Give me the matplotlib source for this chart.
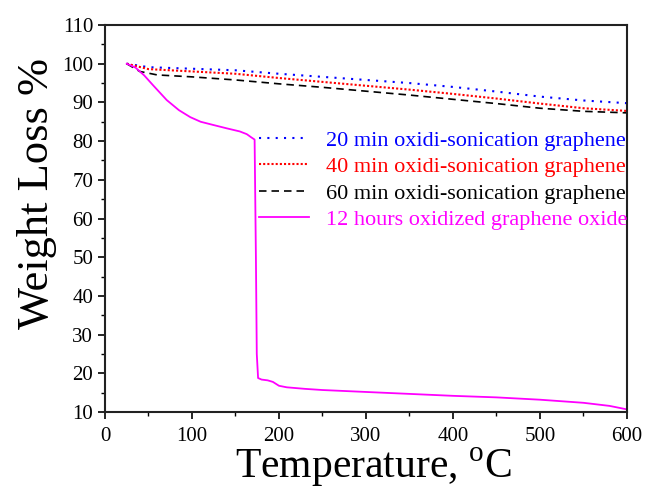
import matplotlib
matplotlib.use("Agg")
import matplotlib.pyplot as plt
from matplotlib.ticker import MultipleLocator

plt.rcParams['font.family'] = ['Liberation Serif', 'DejaVu Serif']
plt.rcParams['mathtext.fontset'] = 'custom'
plt.rcParams['mathtext.rm'] = 'Liberation Serif'

# 20 min oxidi-sonication graphene
t_blue = [25, 50, 100, 150, 200, 250, 300, 350, 400, 450, 500, 550, 600]
w_blue = [100, 99.1, 98.7, 98.3, 97.4, 96.6, 95.8, 95.0, 94.0, 92.8, 91.5, 90.5, 89.8]
# 40 min oxidi-sonication graphene
t_red = [25, 50, 100, 150, 200, 250, 300, 350, 400, 450, 500, 550, 600]
w_red = [100, 98.6, 98.0, 97.4, 96.3, 95.3, 94.3, 93.3, 92.2, 91.0, 89.7, 88.5, 87.8]
# 60 min oxidi-sonication graphene
t_black = [25, 40, 60, 100, 150, 200, 250, 300, 350, 400, 450, 500, 550, 600]
w_black = [100, 98.0, 97.1, 96.6, 95.8, 94.8, 93.9, 92.9, 91.9, 90.8, 89.7, 88.5, 87.7, 87.3]
# 12 hours oxidized graphene oxide
t_mag = [25, 35, 45, 55, 71, 85, 98, 110, 124, 140, 155, 163, 168, 172, 173.5, 174.5, 176, 180, 187, 193, 200, 209, 230,
         250, 300, 350, 400, 450, 500, 550, 580, 600]
w_mag = [100, 99.0, 97.0, 94.5, 90.6, 88.0, 86.2, 85.0, 84.2, 83.3, 82.5, 81.8, 81.0, 80.4, 50.0, 25.0, 18.8, 18.4, 18.2, 17.8, 16.8, 16.4, 16.0,
         15.7, 15.2, 14.7, 14.2, 13.8, 13.2, 12.4, 11.6, 10.7]

labels = ['20 min oxidi-sonication graphene', '40 min oxidi-sonication graphene',
          '60 min oxidi-sonication graphene', '12 hours oxidized graphene oxide']
colors = ['#0000ff', '#ff0000', '#000000', '#ff00ff']

fig = plt.figure(figsize=(6.46, 4.90), dpi=100)
ax = fig.add_axes([0.1625, 0.159, 0.808, 0.790])

ax.plot(t_blue, w_blue, color=colors[0], lw=1.5, linestyle=(0, (1, 3)), label=labels[0])
ax.plot(t_red, w_red, color=colors[1], lw=1.5, linestyle=(0, (1, 1)), label=labels[1])
ax.plot(t_black, w_black, color=colors[2], lw=1.2, linestyle=(0, (4.5, 3)), label=labels[2])
ax.plot(t_mag, w_mag, color=colors[3], lw=1.3, linestyle='-', label=labels[3])

ax.set_xlim(0, 600)
ax.set_ylim(10, 110)
ax.xaxis.set_major_locator(MultipleLocator(100))
ax.xaxis.set_minor_locator(MultipleLocator(50))
ax.yaxis.set_major_locator(MultipleLocator(10))
ax.yaxis.set_minor_locator(MultipleLocator(5))
ax.tick_params(axis='both', which='major', direction='out', length=5, width=1.2, labelsize=15,
               top=False, right=False)
ax.tick_params(axis='x', which='major', pad=6)
ax.tick_params(axis='both', which='minor', direction='out', length=3, width=1.0, top=False, right=False)
for s in ax.spines.values():
    s.set_linewidth(1.5)
    s.set_color('#222222')

ax.set_xlabel('Temperature, $^{\\rm o}$C', fontsize=30)
ax.set_ylabel('Weight Loss %', fontsize=32)
ax.xaxis.set_label_coords(0.515, -0.088)
ax.yaxis.set_label_coords(-0.092, 0.565)

leg = ax.legend(loc='upper right', bbox_to_anchor=(1.0, 0.728), frameon=False, fontsize=16,
                handlelength=2.25, handletextpad=0.75, labelspacing=0.26, borderaxespad=0.0,
                borderpad=0.0)
for txt, c in zip(leg.get_texts(), colors):
    txt.set_color(c)

fig.savefig('out.png', dpi=100)
